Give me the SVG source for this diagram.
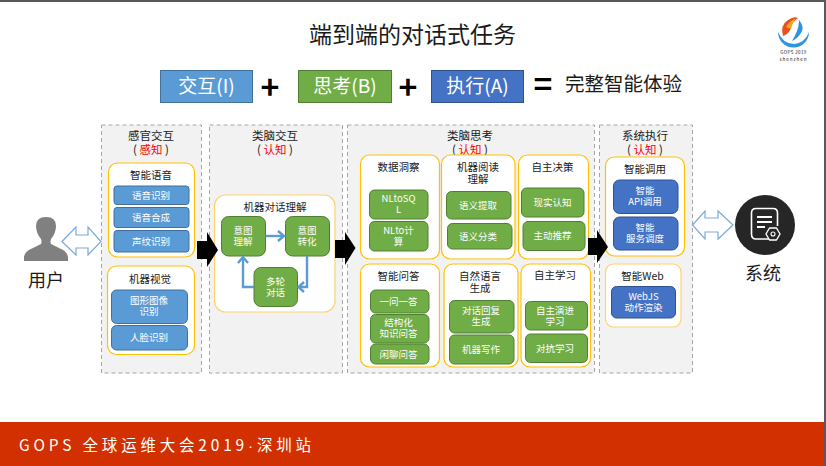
<svg xmlns="http://www.w3.org/2000/svg" width="826" height="466" viewBox="0 0 826 466">
  <style>
    text { font-family: "Noto Sans CJK SC", "Liberation Sans", sans-serif; text-anchor: middle; fill: #1a1a1a; }
    .panel { fill: #f2f2f2; stroke: #a6a6a6; stroke-width: 1; stroke-dasharray: 4 3; }
    .group { fill: #fff; stroke: #ffc000; stroke-width: 1.2; }
    .soft { stroke: #ffd26e; }
    .blue { fill: #5b9bd5; stroke: #41719c; stroke-width: 1; }
    .green { fill: #70ad47; stroke: #507e32; stroke-width: 1; }
    .navy { fill: #4472c4; stroke: #2f528f; stroke-width: 1; }
    .lbl { font-size: 9.5px; fill: #fff; }
    .ttl { font-size: 10.5px; }
    .pt { font-size: 11.5px; }
    .red { fill: #ff0000; }
    .big { font-size: 19px; fill: #fff; }
    .sym { font-size: 32px; font-weight: 700; fill: #000; }
    .flow { fill: none; stroke: #5b9bd5; stroke-width: 2.4; }
    .fat { fill: #000; }
    .twin { fill: #fff; stroke: #7aa9dc; stroke-width: 1.2; }
  </style>

  <rect width="826" height="466" fill="#fff"/>

  <text x="412.500" y="43" font-size="23">端到端的对话式任务</text>

  <g id="formula">
    <rect x="160.500" y="70.500" width="92" height="32" fill="#5b9bd5" stroke="#41719c"/>
    <text class="big" x="206.500" y="93">交互(I)</text>
    <text class="sym" x="270" y="99">+</text>
    <rect x="298.500" y="70.500" width="93" height="32" fill="#70ad47" stroke="#507e32"/>
    <text class="big" x="345" y="93">思考(B)</text>
    <text class="sym" x="408" y="99">+</text>
    <rect x="431.500" y="70.500" width="92" height="32" fill="#4472c4" stroke="#2f528f"/>
    <text class="big" x="477.500" y="93">执行(A)</text>
    <text class="sym" x="543" y="96">=</text>
    <text x="623.500" y="91" font-size="19.500">完整智能体验</text>
  </g>

  <g id="logo">
    <path d="M778 32 A15.500 15.500 0 0 0 809 32 Q805 43 794 44 Q783 44 778 32Z" fill="#2e93e0"/>
    <path d="M783 36 Q780 25 788 20 Q794 16 798 18 Q792 22 791 28 Q789 34 783 36Z" fill="#e8501e"/>
    <path d="M786 27 Q789 21 796 18.500 Q792 23 791 29Z" fill="#f7a823"/>
    <path d="M799 20 Q805 27 801 33 Q797 39 792 41 Q795 36 797 31 Q799 26 799 20Z" fill="#2e93e0"/>
    <text x="793.500" y="54" font-size="4.500" fill="#777" letter-spacing="0.400">GOPS 2019</text>
    <text x="793.500" y="61" font-size="4.500" fill="#aaa" letter-spacing="1">shenzhen</text>
  </g>

  <g id="user">
    <path d="M24 261 V257 Q25 251 33 248 L41 244 Q42 242 41 239 Q36 233 36 226 Q36 217 46 217 Q56 217 56 226 Q56 233 51 239 Q50 242 51 244 L59 248 Q67 251 68 257 V261Z" fill="#808080"/>
    <text x="46" y="287" font-size="18">用户</text>
  </g>

  <g id="system">
    <circle cx="765" cy="225" r="30" fill="#262626"/>
    <path d="M770 239 H756 Q751.500 239 751.500 234 V213 Q751.500 208.500 756 208.500 H773 Q777.500 208.500 777.500 213 V226" fill="none" stroke="#fff" stroke-width="1.600"/>
    <path d="M757 217 H772 M757 222 H772 M757 227 H765" stroke="#fff" stroke-width="1.800"/>
    <path d="M769.500 228 H776.500 L780 234 L776.500 240 H769.500 L766 234Z" fill="#262626" stroke="#fff" stroke-width="1.400" stroke-linejoin="round"/>
    <circle cx="773" cy="234" r="2" fill="none" stroke="#fff" stroke-width="1.100"/>
    <text x="763" y="280" font-size="18">系统</text>
  </g>

  <g id="panel-sense">
    <rect class="panel" x="101.500" y="125" width="100" height="248"/>
    <text class="pt" x="151" y="139.500">感官交互<tspan x="151" dy="14">( <tspan class="red">感知</tspan> )</tspan></text>
  </g>
  <g id="panel-dialog">
    <rect class="panel" x="209.500" y="125" width="133" height="248"/>
    <text class="pt" x="275" y="139.500">类脑交互<tspan x="275" dy="14">( <tspan class="red">认知</tspan> )</tspan></text>
  </g>
  <g id="panel-think">
    <rect class="panel" x="347.500" y="125" width="247" height="248"/>
    <text class="pt" x="470" y="139.500">类脑思考<tspan x="470" dy="14">( <tspan class="red">认知</tspan> )</tspan></text>
  </g>
  <g id="panel-exec">
    <rect class="panel" x="599.500" y="125" width="93" height="248"/>
    <text class="pt" x="645" y="139.500">系统执行<tspan x="645" dy="14">( <tspan class="red">认知</tspan> )</tspan></text>
  </g>

  <g id="speech">
    <rect class="group" x="108.500" y="163" width="86" height="94" rx="9"/>
    <text class="ttl" x="151" y="179">智能语音</text>
    <rect class="blue" x="114" y="186" width="75" height="18.500" rx="3"/>
    <text class="lbl" x="151" y="198.500">语音识别</text>
    <rect class="blue" x="114" y="207.500" width="75" height="20" rx="3"/>
    <text class="lbl" x="151" y="221">语音合成</text>
    <rect class="blue" x="114" y="230.500" width="75" height="21.500" rx="3"/>
    <text class="lbl" x="151" y="244.500">声纹识别</text>
  </g>
  <g id="vision">
    <rect class="group" x="107.500" y="266" width="87" height="88.500" rx="9"/>
    <text class="ttl" x="150" y="283">机器视觉</text>
    <rect class="blue" x="111.500" y="290" width="76" height="33.500" rx="5"/>
    <text class="lbl" x="149" y="304">图形图像<tspan x="149" dy="11">识别</tspan></text>
    <rect class="blue" x="111.500" y="325.500" width="76" height="24.500" rx="5"/>
    <text class="lbl" x="149" y="341">人脸识别</text>
  </g>

  <g id="dialog-understanding">
    <rect class="group soft" x="214.500" y="195" width="120.500" height="117" rx="11"/>
    <text class="ttl" x="275" y="211">机器对话理解</text>
    <g id="intent-understand">
      <rect class="green" x="221.500" y="216.500" width="44" height="39.500" rx="7"/>
      <text class="lbl" x="243" y="234">意图<tspan x="243" dy="11">理解</tspan></text>
    </g>
    <g id="intent-transform">
      <rect class="green" x="285.500" y="216.500" width="44" height="39.500" rx="7"/>
      <text class="lbl" x="307" y="234">意图<tspan x="307" dy="11">转化</tspan></text>
    </g>
    <g id="multi-turn">
      <rect class="green" x="254" y="267.500" width="43.500" height="39" rx="7"/>
      <text class="lbl" x="275.500" y="285">多轮<tspan x="275.500" dy="11">对话</tspan></text>
    </g>
  </g>

  <g id="data-insight">
    <rect class="group" x="360.500" y="155" width="79" height="104" rx="9"/>
    <text class="ttl" x="398.500" y="171">数据洞察</text>
    <rect class="green" x="369.500" y="190" width="58.500" height="29" rx="5"/>
    <text class="lbl" x="398.500" y="202">NLtoSQ<tspan x="398.500" dy="11">L</tspan></text>
    <rect class="green" x="369.500" y="221.500" width="58.500" height="29.500" rx="5"/>
    <text class="lbl" x="398.500" y="234">NLto计<tspan x="398.500" dy="11">算</tspan></text>
  </g>
  <g id="reading">
    <rect class="group" x="441.500" y="155" width="73.500" height="104" rx="9"/>
    <text class="ttl" x="478" y="171">机器阅读<tspan x="478" dy="12">理解</tspan></text>
    <rect class="green" x="446.500" y="191.500" width="64.500" height="27.500" rx="5"/>
    <text class="lbl" x="478" y="208.500">语义提取</text>
    <rect class="green" x="447.500" y="223.500" width="64.500" height="25.500" rx="5"/>
    <text class="lbl" x="478" y="240">语义分类</text>
  </g>
  <g id="decision">
    <rect class="group" x="518.500" y="155" width="70" height="104" rx="9"/>
    <text class="ttl" x="552.500" y="171">自主决策</text>
    <rect class="green" x="521.500" y="188" width="62.500" height="29" rx="5"/>
    <text class="lbl" x="552.500" y="206">现实认知</text>
    <rect class="green" x="523" y="221.500" width="62" height="29" rx="5"/>
    <text class="lbl" x="552.500" y="239">主动推荐</text>
  </g>
  <g id="qa">
    <rect class="group" x="360.500" y="264" width="79" height="103" rx="9"/>
    <text class="ttl" x="398.500" y="280">智能问答</text>
    <rect class="green" x="370.500" y="290" width="58.500" height="23" rx="5"/>
    <text class="lbl" x="398.500" y="305">一问一答</text>
    <rect class="green" x="370.500" y="314.500" width="58.500" height="28.500" rx="5"/>
    <text class="lbl" x="398.500" y="326">结构化<tspan x="398.500" dy="11">知识问答</tspan></text>
    <rect class="green" x="370.500" y="344" width="58.500" height="20" rx="5"/>
    <text class="lbl" x="398.500" y="357.500">闲聊问答</text>
  </g>
  <g id="nlg">
    <rect class="group" x="444" y="264" width="74" height="103" rx="9"/>
    <text class="ttl" x="480" y="280">自然语言<tspan x="480" dy="12">生成</tspan></text>
    <rect class="green" x="449.500" y="300.500" width="64.500" height="32.500" rx="5"/>
    <text class="lbl" x="481" y="314">对话回复<tspan x="481" dy="11">生成</tspan></text>
    <rect class="green" x="449.500" y="335" width="64.500" height="29" rx="5"/>
    <text class="lbl" x="481" y="352.500">机器写作</text>
  </g>
  <g id="self-learning">
    <rect class="group" x="521" y="264" width="69.500" height="103" rx="9"/>
    <text class="ttl" x="555" y="279">自主学习</text>
    <rect class="green" x="525.500" y="301.500" width="62" height="28.500" rx="5"/>
    <text class="lbl" x="555" y="314">自主演进<tspan x="555" dy="10.500">学习</tspan></text>
    <rect class="green" x="525.500" y="334" width="62" height="28.500" rx="5"/>
    <text class="lbl" x="555" y="351.500">对抗学习</text>
  </g>

  <g id="invoke">
    <rect class="group" x="605.500" y="157" width="79" height="99" rx="9"/>
    <text class="ttl" x="645" y="173">智能调用</text>
    <rect class="navy" x="613.500" y="180" width="64.500" height="33.500" rx="6"/>
    <text class="lbl" x="645" y="194">智能<tspan x="645" dy="10.500">API调用</tspan></text>
    <rect class="navy" x="613.500" y="217" width="64.500" height="33" rx="6"/>
    <text class="lbl" x="645" y="231">智能<tspan x="645" dy="10.500">服务调度</tspan></text>
  </g>
  <g id="web">
    <rect class="group soft" x="605.500" y="264" width="75.500" height="63" rx="8"/>
    <text class="ttl" x="642.500" y="280">智能Web</text>
    <rect class="navy" x="611.500" y="286.500" width="64" height="31.500" rx="5"/>
    <text class="lbl" x="643.500" y="300">WebJS<tspan x="643.500" dy="11">动作渲染</tspan></text>
  </g>

  <g id="connectors">
    <path class="twin" d="M62 241.500 L76 227 V235 H88 V227 L101 241.500 L88 255 V248 H76 V255Z"/>
    <path class="twin" d="M692.500 225 L705 211 V218 H718 V211 L733 225 L718 239 V232 H705 V239Z"/>
    <path class="fat" d="M197 241 H207 V232 L218 250 L207 267 V259 H197Z"/>
    <path class="fat" d="M335 240 H345 V232 L355.500 248 L345 265 V258 H335Z"/>
    <path class="fat" d="M588 238 H597 V230 L608 247 L597 263 V255 H588Z"/>
    <path class="flow" d="M265.500 236 H283"/>
    <path class="flow" d="M278 231 L284 236 L278 241"/>
    <path class="flow" d="M307 256 V287 H299"/>
    <path class="flow" d="M304 282 L298.500 287 L304 292"/>
    <path class="flow" d="M254 287 H243 V258"/>
    <path class="flow" d="M238 263 L243 257 L248 263"/>
  </g>

  <g id="footer">
    <rect y="422" width="826" height="44" fill="#d23000"/>
    <text x="19" y="451" font-size="15.500" style="fill:#fff;text-anchor:start" textLength="292" lengthAdjust="spacing">GOPS 全球运维大会2019<tspan font-family="Liberation Sans">·</tspan>深圳站</text>
  </g>

  <!-- slide frame: thin dark edge along the top and right -->
  <rect width="826" height="2" fill="#595959"/>
  <rect x="824" width="2" height="466" fill="#595959"/>
</svg>
